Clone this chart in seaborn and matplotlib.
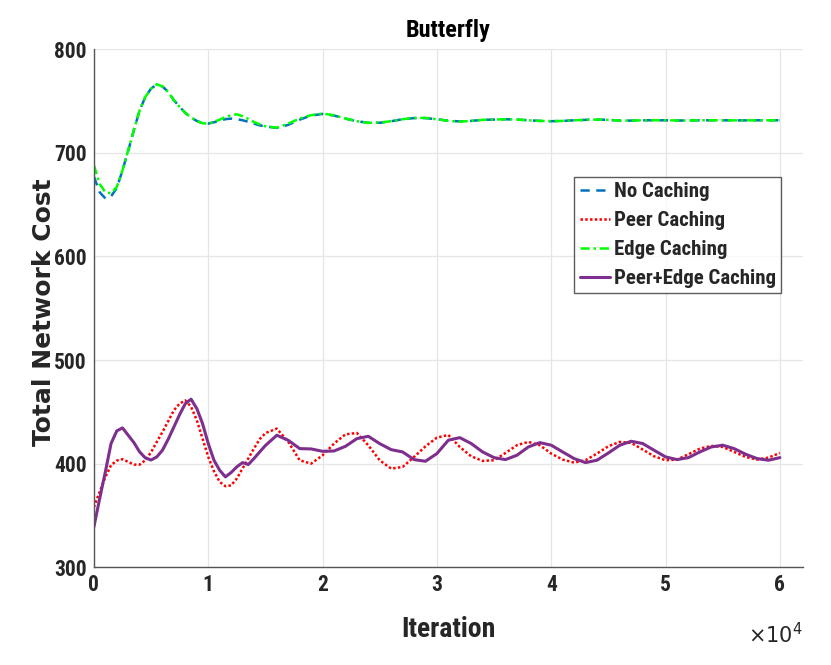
import numpy as np
import pandas as pd
import matplotlib
matplotlib.use("Agg")
import matplotlib.pyplot as plt
from matplotlib.ticker import FuncFormatter
import seaborn as sns

# iterations: every 500 up to 15000, then every 1000
iterations = np.concatenate([np.arange(0, 15000, 500), np.arange(15000, 61000, 1000)])

no_caching = [677, 662, 656, 658, 666, 683, 702, 722, 741, 754,
              762, 766, 764, 758.8, 750.7, 744.3, 738.5, 734, 730.8, 728.5,
              728.2, 729.5, 731, 732.5, 733, 732.5, 731.4, 730, 728.2, 726.5,
              725.5, 724, 727, 732, 736, 737.5, 736, 733, 730.5, 729,
              729, 730.5, 732.4, 733.5, 733.5, 732.4, 731, 730.3, 730.8, 731.8,
              732.1, 732.4, 732.1, 731.4, 730.8, 730.5, 730.8, 731.4, 731.8, 732.1,
              731.8, 731.1, 731.1, 731.4, 731.4, 731.4, 731.2, 731.2, 731.4, 731.4,
              731.4, 731.3, 731.3, 731.4, 731.4, 731.4]

peer_caching = [358, 372.7, 387, 398.5, 403, 404.3, 401.7, 399.1, 399, 403.3,
                411, 421, 430.6, 441, 451.6, 458, 461, 454.8, 442, 424.2,
                406.5, 392.7, 382.4, 378.2, 379, 385.6, 395.3, 404.9, 414.6, 423.6,
                429.5, 433.8, 421, 403.2, 400, 408, 419.3, 428.3, 429.6, 417.7,
                403.2, 395.2, 396.8, 406.4, 416.7, 425.1, 427.7, 416.1, 407.1, 402.6,
                403.3, 410.3, 417.8, 421, 417.8, 409.7, 403.9, 401, 403.3, 409.7,
                416.8, 421, 420, 413.6, 407.1, 403.3, 403.9, 409.1, 414.5, 417.1,
                416.1, 411.3, 406.5, 403.9, 405.8, 410.3]

edge_caching = [688, 670, 662, 661, 667, 683, 702.5, 722.4, 741, 754,
                762, 766.2, 764, 758.8, 750.7, 744.3, 738.5, 734, 730.8, 728.5,
                728.2, 729.8, 732, 734.5, 736.3, 737.2, 735.3, 732.8, 729.8, 727.5,
                725.6, 724.3, 728.2, 733.1, 736.3, 737.9, 736.3, 733.1, 730.5, 728.9,
                729.2, 730.5, 732.4, 733.7, 733.7, 732.4, 730.8, 730.1, 730.8, 731.8,
                732.1, 732.4, 732.1, 731.4, 730.8, 730.5, 730.8, 731.4, 731.8, 732.1,
                731.8, 731.1, 731.1, 731.4, 731.4, 731.4, 731.2, 731.2, 731.4, 731.4,
                731.4, 731.3, 731.3, 731.4, 731.4, 731.4]

peer_edge_caching = [339, 366, 392, 419.4, 431.6, 434.5, 427.4, 420.3, 411.3, 405.5,
                     403.5, 406.5, 413, 423.6, 435.5, 447.4, 458, 462.2, 453.2, 438.7,
                     419.4, 403.3, 393.6, 387.2, 391.4, 396.9, 401, 399.1, 404.9, 411.3,
                     417.5, 427.4, 422.5, 414.5, 414.2, 411.9, 412.2, 416.7, 424.1, 426.4,
                     419.3, 413.5, 411.3, 403.9, 402.3, 409.7, 422.6, 425.1, 419.4, 411.3,
                     405.8, 403.9, 408.1, 416.1, 420.3, 417.8, 411.3, 404.9, 401, 403.3,
                     410.3, 417.8, 421.6, 419.4, 412.9, 406.5, 403.9, 405.8, 411.3, 416.1,
                     417.8, 414.5, 409.1, 404.9, 403.3, 405.8]

series = [
    ("No Caching", no_caching, "#0072BD", (0, (3.7, 2.6)), 1.8),
    ("Peer Caching", peer_caching, "#FF0000", (0, (1, 0.9)), 1.8),
    ("Edge Caching", edge_caching, "#00FF00", (0, (3.7, 1.5, 1, 1.5)), 1.8),
    ("Peer+Edge Caching", peer_edge_caching, "#7E2F8E", "-", 2.2),
]

sns.set_style("whitegrid")
narrow = ['Roboto Condensed', 'DejaVu Sans']
plt.rcParams['font.family'] = narrow

fig = plt.figure(figsize=(8.31, 6.65), dpi=100)
ax = fig.add_axes([0.113, 0.147, 0.853, 0.779])

for name, values, color, ls, lw in series:
    sns.lineplot(x=iterations, y=values, ax=ax, color=color, linestyle=ls,
                 linewidth=lw, label=name)

ax.set_xlim(0, 62000)
ax.set_ylim(300, 800)
ax.set_xticks(np.arange(0, 60001, 10000))
ax.set_yticks(np.arange(300, 801, 100))
ax.xaxis.set_major_formatter(FuncFormatter(lambda v, p: f"{v / 1e4:g}"))

ax.grid(True, color='#e6e6e6', linewidth=0.9)
for side in ['top', 'right']:
    ax.spines[side].set_visible(False)
for side in ['left', 'bottom']:
    ax.spines[side].set_color('#555555')
    ax.spines[side].set_linewidth(1.0)
ax.tick_params(direction='in', length=6, width=1, colors='#555555',
               labelcolor='#262626', labelsize=15.5, pad=5)
for lbl in ax.get_xticklabels() + ax.get_yticklabels():
    lbl.set_fontweight('bold')

ax.set_title('Butterfly', fontsize=17.5, fontweight='bold', color='#000000', pad=9)
ax.set_xlabel('Iteration', fontsize=20, fontweight='bold', color='#262626')
ax.xaxis.set_label_coords(0.5, -0.094)
ax.xaxis.label.set_verticalalignment('top')
ax.set_ylabel('Total Network Cost', fontsize=18, fontweight='bold', color='#262626',
              family=['DejaVu Sans'])
ax.yaxis.set_label_coords(-0.054, 0.492)

ax.text(1.0, -0.105, r'$\times$10$^{4}$', transform=ax.transAxes, ha='right', va='top',
        fontsize=15, color='#262626', family=['DejaVu Sans'])

leg = ax.legend(loc='upper left', bbox_to_anchor=(0.678, 0.754), frameon=True,
                fontsize=15, handlelength=1.45, handletextpad=0.2,
                borderpad=0.25, labelspacing=0.48, fancybox=False, borderaxespad=0)
leg.get_frame().set_edgecolor('#333333')
leg.get_frame().set_linewidth(1.0)
for t in leg.get_texts():
    t.set_fontweight('bold')

fig.savefig('out.png', dpi=100)
